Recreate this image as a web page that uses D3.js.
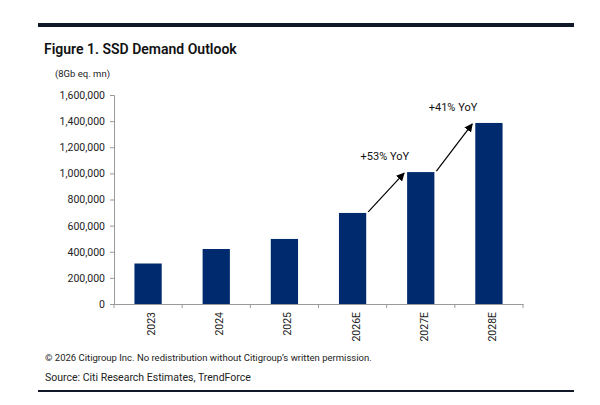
<!DOCTYPE html>
<html><head><meta charset="utf-8">
<script src="https://cdn.jsdelivr.net/npm/d3@7"></script>
<style>body{margin:0;background:#fff}text{font-family:"Roboto","Liberation Sans",sans-serif}</style>
</head><body><svg id="c" width="600" height="405"></svg>
<script>
const categories=["2023","2024","2025","2026E","2027E","2028E"];
const values=[310000,421000,498000,697000,1010000,1386000];
const yTicks=[0,200000,400000,600000,800000,1000000,1200000,1400000,1600000];
const annotations=[{from:3,to:4,label:"+53% YoY"},{from:4,to:5,label:"+41% YoY"}];

const svg=d3.select("#c");
svg.append("rect").attr("x",38).attr("y",23).attr("width",536).attr("height",4).attr("fill","#111827");
svg.append("rect").attr("x",38).attr("y",390).attr("width",536).attr("height",2).attr("fill","#111827");
svg.append("text").attr("x",44).attr("y",54).attr("font-size",14).attr("font-weight",600).attr("fill","#111").text("Figure 1. SSD Demand Outlook");
svg.append("text").attr("x",55).attr("y",77).attr("font-size",9.5).attr("fill","#222").text("(8Gb eq. mn)");
svg.append("text").attr("x",45).attr("y",361).attr("font-size",9.5).attr("fill","#222").text("© 2026 Citigroup Inc. No redistribution without Citigroup’s written permission.");
svg.append("text").attr("x",45).attr("y",381).attr("font-size",10.5).attr("fill","#222").text("Source: Citi Research Estimates, TrendForce");

const x=d3.scaleBand().domain(categories).range([114,523]).paddingInner(0.6).paddingOuter(0.3);
const y=d3.scaleLinear().domain([0,1600000]).range([304,95]);
const fmt=d3.format(",");
const ya=svg.append("g").attr("transform","translate(114,0)").call(d3.axisLeft(y).tickValues(yTicks).tickFormat(fmt).tickSize(4));
ya.selectAll("text").attr("font-size",10.5).attr("fill","#222").attr("dx",-2);
ya.selectAll("line,path").attr("stroke","#999");
const xa=svg.append("g").attr("transform","translate(0,304)").call(d3.axisBottom(x).tickSize(0));
xa.select("path").attr("stroke","#999");
categories.concat(["end"]).forEach((c,i)=>{const xx=114+i*((523-114)/6);svg.append("line").attr("x1",xx).attr("x2",xx).attr("y1",304).attr("y2",308).attr("stroke","#999");});
xa.selectAll("text").attr("font-size",10.5).attr("fill","#222").attr("transform","rotate(-90)").attr("text-anchor","end").attr("dx",-8).attr("dy",4);

svg.append("g").selectAll("rect").data(values).join("rect")
 .attr("x",(d,i)=>x(categories[i])).attr("width",x.bandwidth())
 .attr("y",d=>y(d)).attr("height",d=>304-y(d)).attr("fill","#002a6e");

svg.append("defs").append("marker").attr("id","ah").attr("viewBox","0 0 10 10").attr("refX",9).attr("refY",5)
 .attr("markerWidth",7).attr("markerHeight",7).attr("orient","auto").append("path").attr("d","M0,0L10,5L0,10z").attr("fill","#000");
annotations.forEach(a=>{
 const x1=x(categories[a.from])+x.bandwidth()+2, y1=y(values[a.from])-1;
 const x2=x(categories[a.to])-3, y2=y(values[a.to])+1;
 svg.append("line").attr("x1",x1).attr("y1",y1).attr("x2",x2).attr("y2",y2).attr("stroke","#000").attr("stroke-width",1.2).attr("marker-end","url(#ah)");
 svg.append("text").attr("x",x2+5).attr("y",y2-13).attr("text-anchor","end").attr("font-size",11).attr("fill","#111").text(a.label);
});
</script></body></html>
